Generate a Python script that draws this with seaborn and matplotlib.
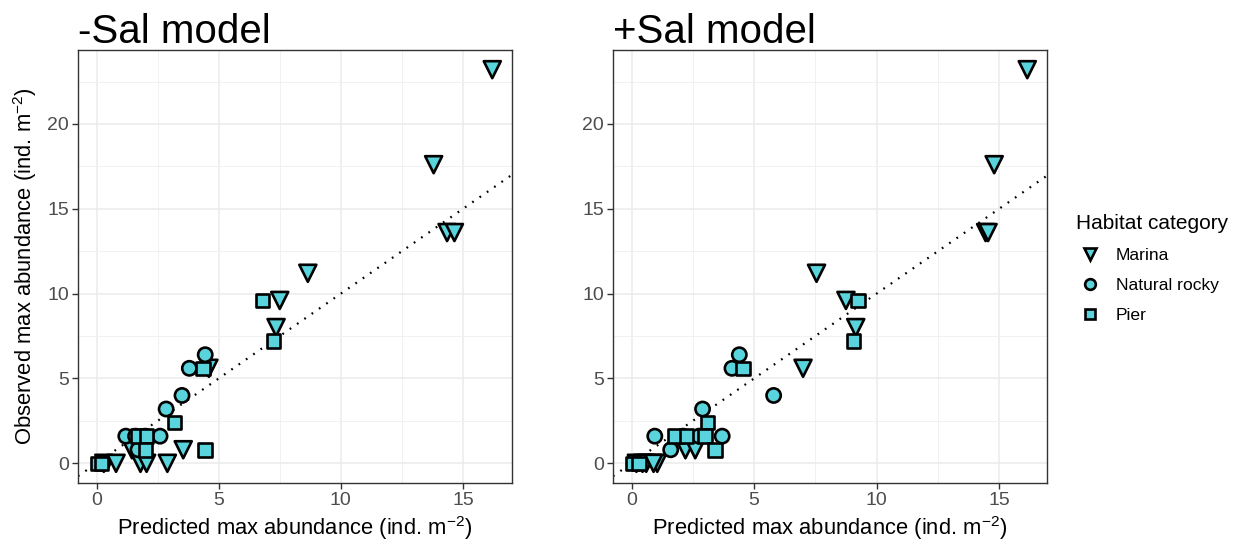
import numpy as np
import pandas as pd
import matplotlib
matplotlib.use("Agg")
import matplotlib.pyplot as plt
import seaborn as sns
from matplotlib.lines import Line2D
from matplotlib.ticker import MultipleLocator

# --- data (predicted x, observed y) ---
habitats = ["Marina", "Natural rocky", "Pier"]

# -Sal model
marina_x_nosal = [16.2, 13.8, 14.35, 14.65, 8.65, 7.5, 7.35, 4.6, 1.45, 3.55, 1.8, 2.05, 2.9, 0.3, 0.8]
marina_y_nosal = [23.2, 17.6, 13.6, 13.6, 11.2, 9.6, 8.0, 5.6, 0.8, 0.8, 0.0, 0.0, 0.0, 0.0, 0.0]
rocky_x_nosal = [4.45, 3.8, 3.5, 2.85, 1.2, 1.6, 2.0, 2.6, 1.7, 0.25]
rocky_y_nosal = [6.4, 5.6, 4.0, 3.2, 1.6, 1.6, 1.6, 1.6, 0.8, 0.0]
pier_x_nosal = [6.8, 7.25, 4.35, 3.2, 1.7, 2.05, 2.0, 4.45, 0.05, 0.2]
pier_y_nosal = [9.6, 7.2, 5.6, 2.4, 1.6, 1.6, 0.8, 0.8, 0.0, 0.0]

# +Sal model
marina_x_sal = [16.15, 14.8, 14.45, 14.55, 7.55, 8.75, 9.15, 7.0, 2.2, 2.6, 1.05, 0.2, 0.45, 0.6, 0.9]
marina_y_sal = [23.2, 17.6, 13.6, 13.6, 11.2, 9.6, 8.0, 5.6, 0.8, 0.8, 0.0, 0.0, 0.0, 0.0, 0.0]
rocky_x_sal = [4.4, 4.1, 5.8, 2.9, 0.95, 2.1, 2.75, 3.7, 1.6, 0.2]
rocky_y_sal = [6.4, 5.6, 4.0, 3.2, 1.6, 1.6, 1.6, 1.6, 0.8, 0.0]
pier_x_sal = [9.25, 9.05, 4.55, 3.1, 1.75, 2.25, 3.0, 3.4, 0.05, 0.3]
pier_y_sal = [9.6, 7.2, 5.6, 2.4, 1.6, 1.6, 1.6, 0.8, 0.0, 0.0]

titles = ["-Sal model", "+Sal model"]


def make_df(mx, my, rx, ry, px, py):
    return pd.DataFrame({
        "pred": mx + rx + px,
        "obs": my + ry + py,
        "hab": ["Marina"] * len(mx) + ["Natural rocky"] * len(rx) + ["Pier"] * len(px),
    })


df_nosal = make_df(marina_x_nosal, marina_y_nosal, rocky_x_nosal, rocky_y_nosal, pier_x_nosal, pier_y_nosal)
df_sal = make_df(marina_x_sal, marina_y_sal, rocky_x_sal, rocky_y_sal, pier_x_sal, pier_y_sal)

sns.set_style("white")
plt.rcParams["font.family"] = ["Liberation Sans", "DejaVu Sans"]
plt.rcParams["mathtext.default"] = "regular"
plt.rcParams["text.color"] = "black"
plt.rcParams["axes.labelcolor"] = "black"

fill = "#5AD4DC"
markers = {"Marina": "v", "Natural rocky": "o", "Pier": "s"}
sizes = {"Marina": 150, "Natural rocky": 105, "Pier": 95}
tick_col = "#4D4D4D"
unit = "(ind. m$^{-2}$)"

fig = plt.figure(figsize=(12.49, 5.46), dpi=100)
ax1 = fig.add_axes([78 / 1249, 63 / 546, 434 / 1249, 433 / 546])
ax2 = fig.add_axes([613 / 1249, 63 / 546, 434 / 1249, 433 / 546])

for ax, df, title in zip([ax1, ax2], [df_nosal, df_sal], titles):
    ax.set_axisbelow(True)
    ax.xaxis.set_major_locator(MultipleLocator(5))
    ax.yaxis.set_major_locator(MultipleLocator(5))
    ax.xaxis.set_minor_locator(MultipleLocator(2.5))
    ax.yaxis.set_minor_locator(MultipleLocator(2.5))
    ax.grid(which="major", color="#EBEBEB", lw=1.1)
    ax.grid(which="minor", color="#EFEFEF", lw=0.6)

    # 1:1 line
    ax.axline((0, 0), slope=1, color="black", lw=1.6, dashes=(0.8, 3.2), zorder=2)

    sns.scatterplot(data=df, x="pred", y="obs", style="hab", markers=markers,
                    size="hab", sizes=sizes, color=fill, edgecolor="black",
                    linewidth=1.9, legend=False, ax=ax, zorder=3)

    xr = df["pred"].max() - df["pred"].min()
    yr = df["obs"].max() - df["obs"].min()
    ax.set_xlim(df["pred"].min() - 0.05 * xr, df["pred"].max() + 0.05 * xr)
    ax.set_ylim(df["obs"].min() - 0.05 * yr, df["obs"].max() + 0.05 * yr)

    for s in ax.spines.values():
        s.set_color("#333333")
        s.set_linewidth(1.0)
    ax.tick_params(which="major", bottom=True, left=True, length=4, width=1.0,
                   color="#333333", labelsize=14, labelcolor=tick_col, pad=2.5)
    ax.tick_params(which="minor", length=0)

    ax.set_xlabel("Predicted max abundance " + unit, fontsize=15.8, labelpad=4)
    ax.set_ylabel("")
    ax.set_title(title, loc="left", fontsize=29, pad=5, color="black")

ax1.set_ylabel("Observed max abundance " + unit, fontsize=15.8, labelpad=6)

handles = [Line2D([], [], ls="", marker=markers[h], markersize=np.sqrt(sizes[h]) * 0.75,
                  markerfacecolor=fill, markeredgecolor="black", markeredgewidth=1.9)
           for h in habitats]
leg = fig.legend(handles, habitats, title="Habitat category", loc="upper left",
                 bbox_to_anchor=(1060 / 1249, 1 - 198 / 546), frameon=False,
                 fontsize=12.6, title_fontsize=15, labelspacing=0.85,
                 handletextpad=0.7, handlelength=1.6)
leg._legend_box.align = "left"

fig.savefig("out.png", dpi=100)
